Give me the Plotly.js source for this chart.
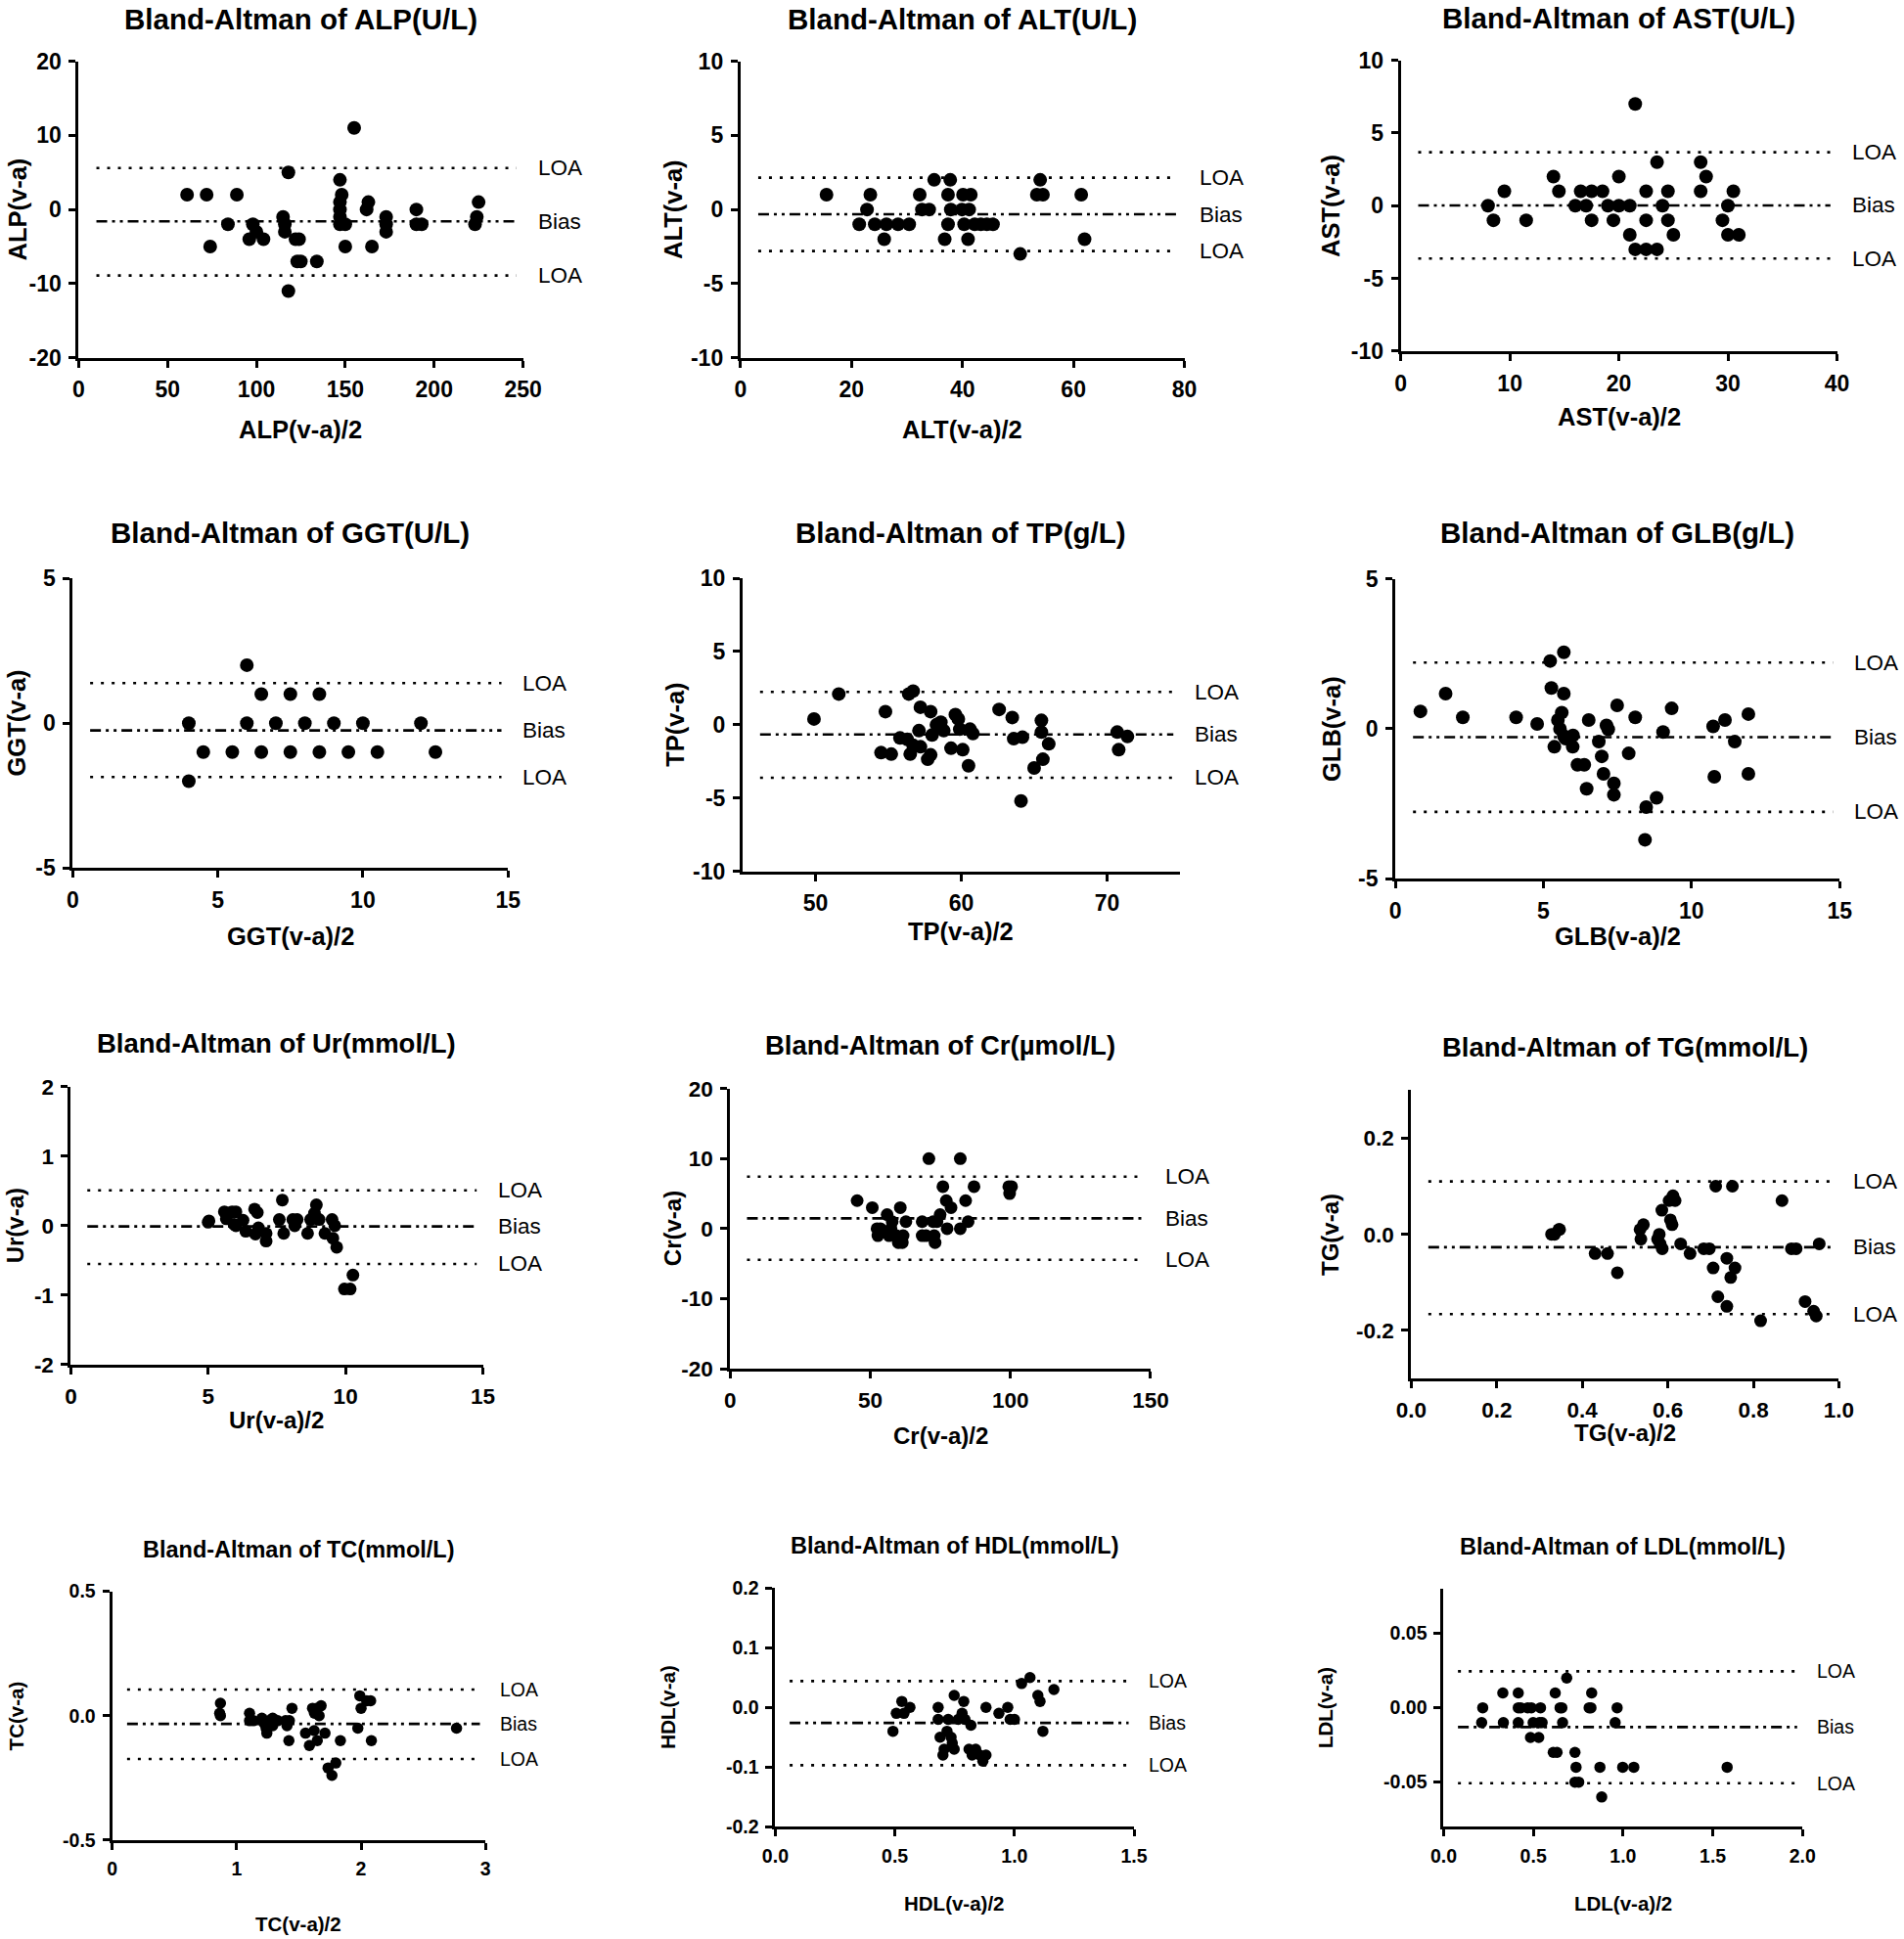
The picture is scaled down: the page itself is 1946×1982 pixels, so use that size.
<!DOCTYPE html>
<html>
<head>
<meta charset="utf-8">
<script src="https://cdn.plot.ly/plotly-3.0.1.min.js"></script>
<style>
  html, body { margin: 0; padding: 0; background: #ffffff; }
  #chart { width: 1946px; height: 1982px; }
</style>
</head>
<body>
<div id="chart"></div>
<script>
// ---------------- DATA ----------------
const analytes = ['ALP', 'ALT', 'AST', 'GGT', 'TP', 'GLB', 'Ur', 'Cr', 'TG', 'TC', 'HDL', 'LDL'];
const units = ['U/L', 'U/L', 'U/L', 'U/L', 'g/L', 'g/L', 'mmol/L', 'µmol/L', 'mmol/L', 'mmol/L', 'mmol/L', 'mmol/L'];

const alpMean = [61,72,74,89,84,96,98,100,104,118,115,116,116,118,122,124,123,125,134,147,148,147,147,147,147,150,150,155,162,163,165,173,173,173,190,190,193,225,224,223];
const alpDiff = [2,2,-5,2,-2,-4,-2,-3,-4,5,-1,-2,-3,-11,-4,-4,-7,-7,-7,4,2,1,0,-1,-2,-2,-5,11,0,1,-5,-1,-2,-3,0,-2,-2,1,-1,-2];

const altMean = [15.5,21.4,22.8,23.4,24.2,25.9,26.3,28.4,30.4,32.3,32.7,34,34.9,37.4,37.8,37.9,37.4,36.8,40.1,41.5,39.9,41.2,40.3,41,42.2,43.3,44.4,45.5,50.4,54,53.4,54.5,61.4,62];
const altDiff = [1,-1,0,1,-1,-2,-1,-1,-1,1,0,0,2,1,2,0,-1,-2,1,1,0,0,-1,-2,-1,-1,-1,-1,-3,2,1,1,1,-2];

const astMean = [8,8.5,9.5,11.5,14,14.5,16,16.5,17,17.5,17.5,18.5,19,19.5,20,20,21,21,21.5,21.5,22.5,22.5,22.5,23.5,23.5,24,24.5,24.5,25,27.5,27.5,28,29.5,30,30,30.5,31];
const astDiff = [0,-1,1,-1,2,1,0,1,0,1,-1,1,0,-1,2,0,0,-2,7,-3,1,-1,-3,3,-3,0,1,-1,-2,3,1,2,-1,0,-2,1,-2];

const ggtMean = [4,4,4.5,5.5,6,6,6.5,6.5,7,7.5,7.5,8,8.5,8.5,9,9.5,10,10.5,12,12.5];
const ggtDiff = [0,-2,-1,-1,2,0,1,-1,0,1,-1,0,1,-1,0,-1,0,-1,0,-1];

const tpMean = [49.9,51.6,54.5,54.8,55.2,55.8,56.3,56.4,56.7,56.5,56.7,57.2,57.1,57.2,57.7,57.9,57.9,58.0,58.3,58.6,58.8,59.3,59.6,59.8,59.9,60.1,60.5,60.6,60.8,62.6,63.5,63.6,64.2,64.1,65.0,65.5,65.5,65.6,66.0,70.7,70.8,71.4];
const tpDiff = [0.4,2.1,-1.9,0.9,-2.0,-0.9,-1.0,2.1,2.3,-2.0,-1.4,1.2,-0.4,-1.5,-2.35,-2.05,0.9,-0.7,0,0.17,-0.4,-1.6,0.7,0.4,-0.3,-1.7,-2.8,-0.3,-0.6,1.05,0.5,-0.95,-0.85,-5.2,-2.95,0.3,-0.5,-2.35,-1.3,-0.5,-1.7,-0.8];

const glbMean = [0.85,1.7,2.28,4.08,4.79,5.23,5.27,5.37,5.49,5.56,5.62,5.69,5.69,5.69,5.75,6.0,5.99,6.15,6.38,6.46,6.53,6.87,6.97,7.03,7.13,7.19,7.38,7.38,7.49,7.88,8.1,8.47,8.43,8.82,9.04,9.33,10.73,10.77,11.13,11.46,11.92,11.92];
const glbDiff = [0.58,1.17,0.38,0.38,0.16,2.26,1.36,-0.6,0.29,0,0.54,2.55,1.17,-0.24,-0.33,-0.22,-0.6,-1.2,-1.2,-2.0,0.29,-0.43,-0.92,-1.5,0.11,-0.02,-1.82,-2.2,0.78,-0.82,0.38,-2.61,-3.7,-2.3,-0.11,0.68,0.08,-1.6,0.29,-0.43,0.49,-1.5];

const urMean = [5.03,5.0,5.59,5.66,5.73,5.87,6.01,5.94,6.01,6.27,6.37,6.69,6.79,6.83,6.72,7.11,7.11,7.59,7.7,7.75,8.08,8.15,8.24,8.62,8.73,8.87,8.94,9.04,9.25,9.51,9.54,9.61,9.68,9.96,10.17,10.27];
const urDiff = [0.07,0.05,0.2,0.1,0.18,0.2,0.2,0.02,0,0.08,-0.08,0.24,0.19,-0.03,-0.12,-0.11,-0.22,0.09,0.37,-0.11,0.09,0,0.09,-0.11,0.09,0.18,0.3,0.09,-0.11,0.09,-0.18,0,-0.31,-0.91,-0.91,-0.71];

const crMean = [45.3,50.7,52.4,52.7,53.6,56.0,56.7,57.4,57.8,59.3,60.7,60,61.4,61.7,62.7,68.5,68.5,69.9,70.9,72.4,72.8,73.1,73.8,74.9,75.9,77.1,77.4,78.8,82.1,82.1,84.0,84.9,87.0,99.4,99.7,100.4];
const crDiff = [4,3,0,-1,0,2,-1,0,1,-1,3,-2,-2,-1,1,1,-1,-1,10,1,-1,-2,1,2,6,4,0,3,10,0,4,1,6,6,5,6];

const tgMean = [0.328,0.335,0.345,0.347,0.43,0.459,0.482,0.535,0.537,0.543,0.576,0.58,0.582,0.586,0.587,0.606,0.61,0.603,0.612,0.617,0.63,0.652,0.684,0.697,0.706,0.712,0.717,0.738,0.738,0.747,0.751,0.757,0.817,0.867,0.889,0.9,0.921,0.941,0.947,0.954];
const tgDiff = [0,0,0.01,0.01,-0.04,-0.04,-0.08,0.01,-0.01,0.02,-0.01,0,-0.02,0.05,-0.03,0.03,0.02,0.07,0.08,0.07,-0.02,-0.04,-0.03,-0.03,-0.07,0.1,-0.13,-0.05,-0.15,-0.09,0.1,-0.07,-0.18,0.07,-0.03,-0.03,-0.14,-0.16,-0.17,-0.02];

const tcMean = [0.87,0.864,0.87,1.104,1.104,1.135,1.203,1.222,1.237,1.243,1.259,1.29,1.29,1.33,1.393,1.405,1.424,1.445,1.42,1.554,1.585,1.61,1.623,1.626,1.641,1.648,1.663,1.679,1.71,1.735,1.766,1.797,1.834,1.99,2.0,1.974,2.045,2.077,2.083,2.767];
const tcDiff = [0.05,0.01,0,0.01,-0.02,-0.02,-0.01,-0.03,-0.05,-0.07,-0.02,-0.01,-0.04,-0.02,-0.02,-0.04,-0.02,0.03,-0.1,-0.07,-0.12,0.03,-0.06,0.01,0.03,-0.1,0,0.04,-0.07,-0.21,-0.24,-0.19,-0.1,0.08,0.03,-0.05,0.06,0.06,-0.1,-0.05];

const hdlMean = [0.492,0.506,0.529,0.538,0.563,0.681,0.681,0.689,0.701,0.706,0.718,0.723,0.735,0.74,0.748,0.748,0.765,0.781,0.788,0.793,0.818,0.81,0.823,0.838,0.855,0.868,0.881,0.881,0.935,0.972,0.982,1.0,1.03,1.065,1.098,1.107,1.119,1.165];
const hdlDiff = [-0.04,-0.01,0.01,-0.01,0,0,-0.02,-0.05,-0.08,-0.07,-0.04,-0.02,-0.05,-0.06,-0.07,0.02,-0.02,-0.01,0.01,-0.02,-0.03,-0.07,-0.08,-0.07,-0.08,-0.09,-0.08,0,-0.01,0,-0.02,-0.02,0.04,0.05,0.02,0.01,-0.04,0.03];

const ldlMean = [0.218,0.212,0.33,0.333,0.416,0.416,0.416,0.43,0.468,0.489,0.484,0.499,0.53,0.534,0.54,0.549,0.622,0.611,0.632,0.649,0.659,0.663,0.686,0.732,0.738,0.732,0.753,0.811,0.821,0.825,0.871,0.881,0.956,0.967,0.998,1.06,1.58];
const ldlDiff = [0,-0.01,0.01,-0.01,0.01,0,-0.01,0,0,0,-0.02,-0.01,-0.02,-0.01,0,-0.01,0.01,-0.03,-0.03,0,0,-0.01,0.02,-0.03,-0.04,-0.05,-0.05,0,0,0.01,-0.04,-0.06,-0.01,0,-0.04,-0.04,-0.04];

const meanData = [alpMean, altMean, astMean, ggtMean, tpMean, glbMean, urMean, crMean, tgMean, tcMean, hdlMean, ldlMean];
const diffData = [alpDiff, altDiff, astDiff, ggtDiff, tpDiff, glbDiff, urDiff, crDiff, tgDiff, tcDiff, hdlDiff, ldlDiff];

const biasValues = [-1.6, -0.32, 0.02, -0.25, -0.66, -0.28, -0.01, 1.47, -0.027, -0.033, -0.026, -0.013];
const loaUpper   = [5.6, 2.15, 3.68, 1.38, 2.24, 2.21, 0.51, 7.43, 0.11, 0.105, 0.044, 0.0245];
const loaLower   = [-8.9, -2.8, -3.63, -1.86, -3.61, -2.77, -0.55, -4.45, -0.166, -0.174, -0.097, -0.0507];

const xRanges = [[0,250],[0,80],[0,40],[0,15],[45,75],[0,15],[0,15],[0,150],[0,1],[0,3],[0,1.5],[0,2]];
const yRanges = [[-20,20],[-10,10],[-10,10],[-5,5],[-10,10],[-5,5],[-2,2],[-20,20],[-0.3,0.3],[-0.5,0.5],[-0.2,0.2],[-0.08,0.08]];

const xTickVals = [[0,50,100,150,200,250],[0,20,40,60,80],[0,10,20,30,40],[0,5,10,15],[50,60,70],[0,5,10,15],[0,5,10,15],[0,50,100,150],[0,0.2,0.4,0.6,0.8,1.0],[0,1,2,3],[0,0.5,1,1.5],[0,0.5,1,1.5,2]];
const xTickText = [['0','50','100','150','200','250'],['0','20','40','60','80'],['0','10','20','30','40'],['0','5','10','15'],['50','60','70'],['0','5','10','15'],['0','5','10','15'],['0','50','100','150'],['0.0','0.2','0.4','0.6','0.8','1.0'],['0','1','2','3'],['0.0','0.5','1.0','1.5'],['0.0','0.5','1.0','1.5','2.0']];
const yTickVals = [[-20,-10,0,10,20],[-10,-5,0,5,10],[-10,-5,0,5,10],[-5,0,5],[-10,-5,0,5,10],[-5,0,5],[-2,-1,0,1,2],[-20,-10,0,10,20],[-0.2,0,0.2],[-0.5,0,0.5],[-0.2,-0.1,0,0.1,0.2],[-0.05,0,0.05]];
const yTickText = [['-20','-10','0','10','20'],['-10','-5','0','5','10'],['-10','-5','0','5','10'],['-5','0','5'],['-10','-5','0','5','10'],['-5','0','5'],['-2','-1','0','1','2'],['-20','-10','0','10','20'],['-0.2','0.0','0.2'],['-0.5','0.0','0.5'],['-0.2','-0.1','0.0','0.1','0.2'],['-0.05','0.00','0.05']];

// ---------------- LAYOUT / STYLE ----------------
const FONT = 'Liberation Sans, Arial, Helvetica, sans-serif';
const domX = [[0.0413,0.2747],[0.3889,0.6221],[0.7357,0.9648],[0.0382,0.2668],[0.3900,0.6197],[0.7328,0.9662],[0.0372,0.2536],[0.3835,0.6043],[0.7412,0.9658],[0.0589,0.2550],[0.4072,0.5956],[0.7582,0.9467]];
const domY = [[0.8155,0.9684],[0.8155,0.9684],[0.8189,0.9689],[0.5523,0.7018],[0.5506,0.7018],[0.5468,0.7015],[0.2962,0.4395],[0.2941,0.4386],[0.2891,0.4378],[0.0510,0.1793],[0.0579,0.1810],[0.0579,0.1806]];
const rowStyle = [
  {title: 29.5, axisTitle: 25.5, tick: 23, label: 22.5, marker: 14, titleGap: 43},
  {title: 29.5, axisTitle: 25.5, tick: 23, label: 22.5, marker: 14, titleGap: 47},
  {title: 27.5, axisTitle: 24, tick: 22.5, label: 22.5, marker: 13, titleGap: 44},
  {title: 23.5, axisTitle: 20.5, tick: 19.5, label: 19.5, marker: 11.5, titleGap: 43}
];
const xTitleGap = [73,73,67,70,61,59,57,68,55,86,78,78];
const yTitleGap = [62,69,71,57,69,65,56,58,83,98,110,121];

const traces = [];
const layout = {
  width: 1946, height: 1982,
  margin: {l: 0, r: 0, t: 0, b: 0},
  paper_bgcolor: '#ffffff',
  plot_bgcolor: 'rgba(0,0,0,0)',
  showlegend: false,
  font: {family: FONT, color: '#000000'},
  shapes: [],
  annotations: []
};

for (let i = 0; i < analytes.length; i++) {
  const k = i === 0 ? '' : String(i + 1);
  const st = rowStyle[Math.floor(i / 3)];
  const xa = 'x' + k, ya = 'y' + k;

  traces.push({
    type: 'scatter', mode: 'markers',
    x: meanData[i], y: diffData[i],
    xaxis: xa, yaxis: ya,
    marker: {color: '#000000', size: st.marker, line: {width: 0}},
    cliponaxis: false,
    hoverinfo: 'skip'
  });

  const axBase = {
    showline: true, linecolor: '#000000', linewidth: 3,
    ticks: 'outside', ticklen: 7, tickwidth: 3, tickcolor: '#000000',
    showgrid: false, zeroline: false,
    tickmode: 'array',
    tickfont: {family: FONT, size: st.tick, color: '#000000', weight: 'bold'},
    fixedrange: true
  };
  layout['xaxis' + k] = Object.assign({}, axBase, {
    domain: domX[i], anchor: ya, range: xRanges[i],
    tickvals: xTickVals[i], ticktext: xTickText[i], ticklabelstandoff: 3
  });
  layout['yaxis' + k] = Object.assign({}, axBase, {
    domain: domY[i], anchor: xa, range: yRanges[i],
    tickvals: yTickVals[i], ticktext: yTickText[i], ticklabelstandoff: 3
  });

  const lines = [
    {v: loaUpper[i], dash: '3px,8px', w: 2.6, label: 'LOA'},
    {v: biasValues[i], dash: '11px,5px,3px,5px,3px,5px', w: 2.6, label: 'Bias'},
    {v: loaLower[i], dash: '3px,8px', w: 2.6, label: 'LOA'}
  ];
  lines.forEach(l => {
    layout.shapes.push({
      type: 'line', layer: 'below',
      xref: xa + ' domain', x0: 0.04, x1: 0.985,
      yref: ya, y0: l.v, y1: l.v,
      line: {color: '#000000', width: l.w, dash: l.dash}
    });
    layout.annotations.push({
      text: l.label, showarrow: false,
      xref: xa + ' domain', x: 1, xanchor: 'left', xshift: 13,
      yref: ya, y: l.v, yanchor: 'middle',
      font: {family: FONT, size: st.label, color: '#000000'}
    });
  });

  // panel title
  layout.annotations.push({
    text: '<b>Bland-Altman of ' + analytes[i] + '(' + units[i] + ')</b>',
    showarrow: false,
    xref: xa + ' domain', x: 0.5, xanchor: 'center',
    yref: ya + ' domain', y: 1, yanchor: 'middle', yshift: st.titleGap,
    font: {family: FONT, size: st.title, color: '#000000'}
  });
  // x-axis title
  layout.annotations.push({
    text: '<b>' + analytes[i] + '(v-a)/2</b>',
    showarrow: false,
    xref: xa + ' domain', x: 0.5, xanchor: 'center',
    yref: ya + ' domain', y: 0, yanchor: 'middle', yshift: -xTitleGap[i],
    font: {family: FONT, size: st.axisTitle, color: '#000000'}
  });
  // y-axis title
  layout.annotations.push({
    text: '<b>' + analytes[i] + '(v-a)</b>',
    showarrow: false, textangle: -90,
    xref: xa + ' domain', x: 0, xanchor: 'center', xshift: -yTitleGap[i],
    yref: ya + ' domain', y: 0.5, yanchor: 'middle',
    font: {family: FONT, size: st.axisTitle, color: '#000000'}
  });
}

Plotly.newPlot('chart', traces, layout, {staticPlot: true, displayModeBar: false});
</script>
</body>
</html>
